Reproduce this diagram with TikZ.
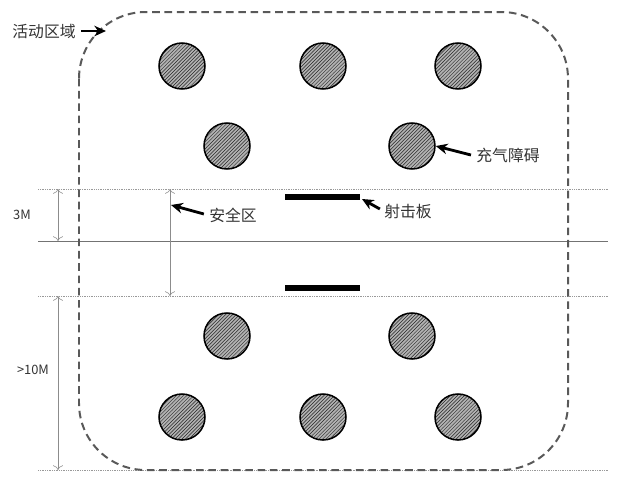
\documentclass[tikz,border=0pt]{standalone}
\usepackage{fontspec}
\setmainfont{Noto Sans CJK SC}
\usepackage{tikz}
\usetikzlibrary{arrows.meta,patterns}

\tikzset{
  zone/.style={draw=black!65, line width=1.7pt, dash pattern=on 6.5pt off 4pt, rounded corners=2cm},
  obst/.style={circle, draw=black, line width=1.3pt, minimum size=1.38cm, inner sep=0pt,
    preaction={fill=gray!60}, pattern=north east lines, pattern color=black!85},
  guide/.style={draw=black!40, densely dotted, line width=0.5pt},
  dim/.style={draw=black!45, line width=0.5pt, {To[length=4pt]}-{To[length=4pt]}},
  point/.style={-{Stealth[length=10pt,width=9pt]}, line width=2.4pt, black},
  lbl/.style={text=black!80, font=\fontsize{13.5}{15}\selectfont, inner sep=1pt},
  small/.style={text=black!80, font=\fontsize{11}{12}\selectfont, inner sep=1pt}
}

\begin{document}
\begin{tikzpicture}[x=0.03cm,y=-0.03cm]
  \useasboundingbox (0,0) rectangle (636,491);
  % lines across
  \draw[guide] (38,189) -- (608,189);
  \draw[draw=black!55, line width=0.8pt] (38,241) -- (608,241);
  \draw[guide] (38,296) -- (608,296);
  \draw[guide] (38,470) -- (608,470);
  % area
  \draw[zone] (79,12) rectangle (568,470);
  % targets
  \draw[line width=0.18cm] (285,197) -- (360,197) coordinate[midway] (tgtA);
  \draw[line width=0.18cm] (285,288) -- (360,288) coordinate[midway] (tgtB);
  % obstacles
  \foreach \x/\y [count=\i] in {182/66, 323/66, 458/66, 227/146, 412/146,
                                227/336, 412/336, 182/417, 323/417, 458/417}
    \node[obst] (ob\i) at (\x,\y) {};
  % dimensions
  \coordinate (d1) at (58,189);
  \coordinate (d2) at (58,241);
  \coordinate (d3) at (58,296);
  \coordinate (d4) at (58,470);
  \coordinate (s1) at (170,189);
  \coordinate (s2) at (170,296);
  \draw[dim] (d1) -- (d2);
  \draw[dim] (d3) -- (d4);
  \draw[dim] (s1) -- (s2);
  \node[small] (m3) at (22,215) {3M};
  \node[small] (m10) at (33,370) {>10M};
  % labels
  \node[lbl] (area) at (44,31) {活动区域};
  \node[lbl] (balloon) at (508,155) {充气障碍};
  \node[lbl] (board) at (408,211) {射击板};
  \node[lbl] (safe) at (233,215) {安全区};
  \coordinate (ar) at (106,31);
  \coordinate (sf) at (171,205);
  \coordinate (bd) at (362,199);
  \draw[point] (area.east) ++(4,0) -- (ar);
  \draw[point] (balloon.west) ++(-4,0) -- (ob5.east);
  \draw[point] (board.west) ++(-3,-2) -- (bd);
  \draw[point] (safe.west) ++(-4,-1) -- (sf);
\end{tikzpicture}
\end{document}
